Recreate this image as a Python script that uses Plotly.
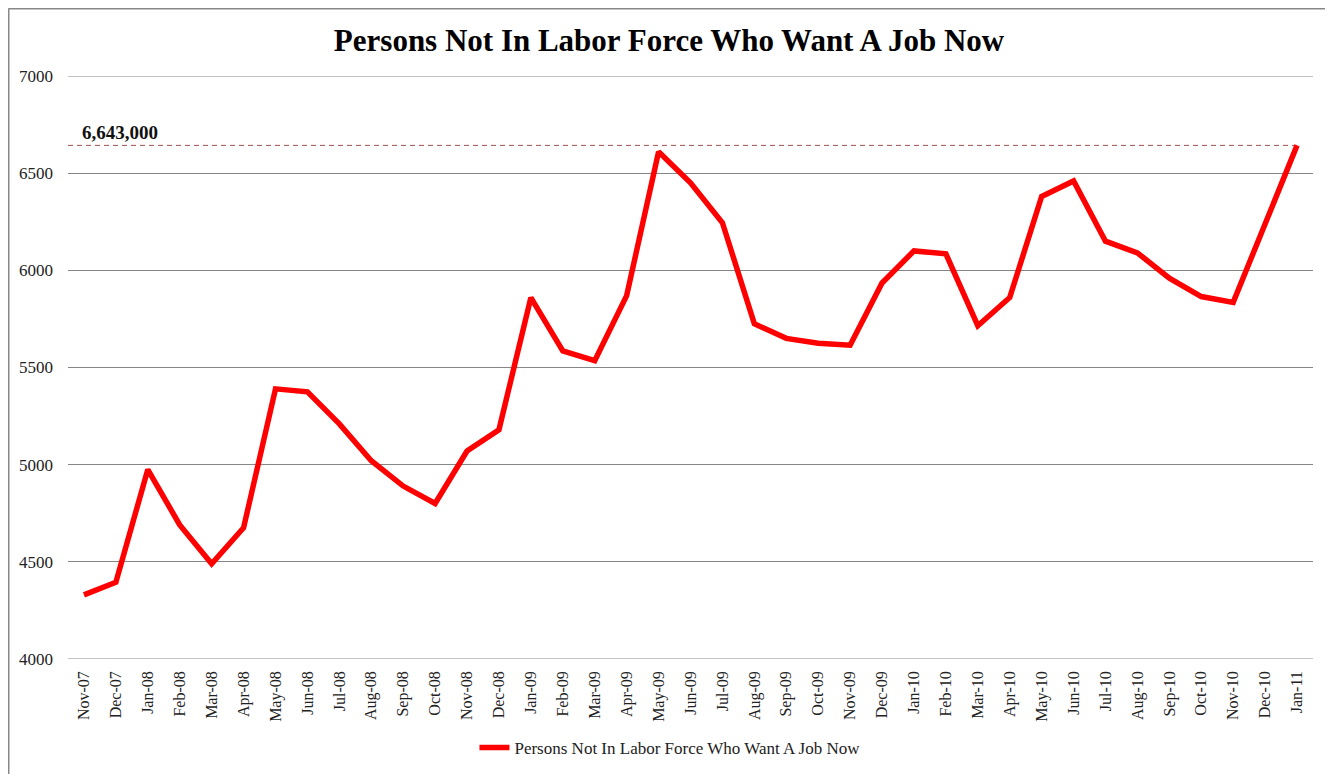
import plotly.graph_objects as go

months = ["Nov-07","Dec-07","Jan-08","Feb-08","Mar-08","Apr-08","May-08","Jun-08","Jul-08","Aug-08",
          "Sep-08","Oct-08","Nov-08","Dec-08","Jan-09","Feb-09","Mar-09","Apr-09","May-09","Jun-09",
          "Jul-09","Aug-09","Sep-09","Oct-09","Nov-09","Dec-09","Jan-10","Feb-10","Mar-10","Apr-10",
          "May-10","Jun-10","Jul-10","Aug-10","Sep-10","Oct-10","Nov-10","Dec-10","Jan-11"]
values = [4330, 4395, 4975, 4690, 4490, 4675, 5390, 5375, 5210, 5020,
          4890, 4800, 5070, 5180, 5860, 5585, 5535, 5870, 6610, 6450,
          6245, 5725, 5650, 5625, 5615, 5935, 6100, 6085, 5715, 5860,
          6380, 6460, 6150, 6090, 5960, 5865, 5835, 6245, 6643]
peak_value = 6643
peak_label = "6,643,000"
series_name = "Persons Not In Labor Force Who Want A Job Now"
title = "Persons Not In Labor Force Who Want A Job Now"
y_ticks = [4000, 4500, 5000, 5500, 6000, 6500, 7000]

serif = "Liberation Serif, Times New Roman, serif"
grid_color = "#868686"

fig = go.Figure()
fig.add_trace(go.Scatter(
    x=months, y=values, mode="lines", name=series_name,
    line=dict(color="#ff0000", width=5.5),
))

# gridlines at the range edges (plotly drops ticks' gridlines right at the plot edges)
for edge in (y_ticks[0], y_ticks[-1]):
    fig.add_shape(type="line", xref="paper", yref="y", x0=0, x1=1, y0=edge, y1=edge,
                  line=dict(color=grid_color, width=1), layer="below")

fig.add_shape(type="line", xref="x", yref="y",
              x0=-0.5, x1=len(months) - 1, y0=peak_value, y1=peak_value,
              line=dict(color="#a05050", width=1, dash="5px,4px"), layer="below")
fig.add_annotation(x=-0.12, y=peak_value, xref="x", yref="y", text="<b>" + peak_label + "</b>",
                   showarrow=False, xanchor="left", yanchor="bottom", yshift=0,
                   font=dict(family=serif, size=19, color="#111111"))

# outer frame (top and left edges)
fig.add_shape(type="line", xref="paper", yref="paper",
              x0=-0.0478, x1=1.1, y0=1.1158, y1=1.1158,
              line=dict(color="#888888", width=2))
fig.add_shape(type="line", xref="paper", yref="paper",
              x0=-0.0478, x1=-0.0478, y0=-0.4, y1=1.1158,
              line=dict(color="#888888", width=2))

fig.update_layout(
    width=1333, height=774,
    paper_bgcolor="white", plot_bgcolor="white",
    margin=dict(l=60, r=28, t=68, b=123, autoexpand=False),
    title=dict(text="<b>" + title + "</b>", x=0.4959, xanchor="center", y=0.9587, yanchor="middle",
               font=dict(family=serif, size=31, color="#000000")),
    font=dict(family=serif, size=16, color="#222222"),
    showlegend=True,
    legend=dict(orientation="h", x=0.4835, xanchor="center", y=-0.1527, yanchor="middle",
                font=dict(family=serif, size=17, color="#222222")),
    xaxis=dict(type="category", range=[-0.5, len(months) - 0.5], tickangle=-90,
               showgrid=False, showline=False, automargin=False,
               ticks="", tickfont=dict(family=serif, size=16), ticklabelstandoff=8),
    yaxis=dict(range=[4000, 7000], tickvals=y_ticks, showgrid=True, gridcolor=grid_color,
               gridwidth=1, zeroline=False, showline=False, ticks="", automargin=False,
               tickfont=dict(family=serif, size=17), ticklabelstandoff=14),
)

fig.write_html("out.html")
